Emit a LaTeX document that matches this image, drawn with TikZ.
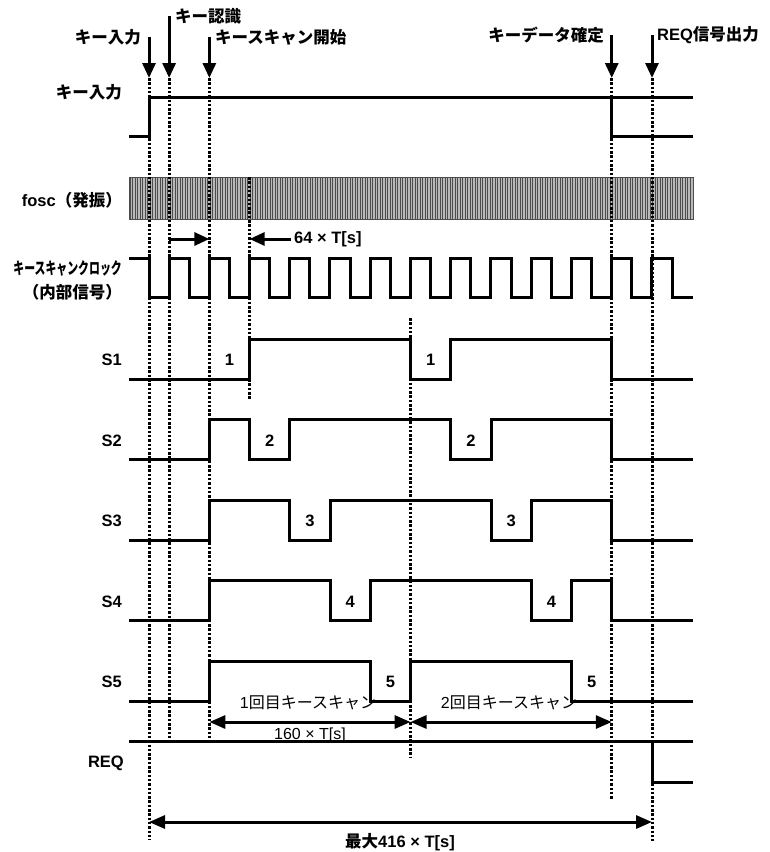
\documentclass[tikz,border=0pt]{standalone}
\usepackage{fontspec}
\usepackage{graphicx}
\setmainfont{Liberation Sans}
\newfontfamily\jp{Noto Sans CJK JP}
\usetikzlibrary{arrows.meta,calc}

\begin{document}
\begin{tikzpicture}[x=1pt,y=-1pt]
  \tikzset{sig/.style = {line width=3pt}}
  \tikzset{guide/.style = {line width=3pt, dash pattern=on 2.5pt off 1.8pt}}
  \tikzset{evarrow/.style = {line width=3pt, -{Triangle[width=13pt,length=15pt]}}}
  \tikzset{dimarrow/.style = {line width=3pt, {Triangle[width=13pt,length=16pt]}-{Triangle[width=13pt,length=16pt]}}}
  \tikzset{lbl/.style = {inner sep=0pt, font=\bfseries\fontsize{16.5}{18}\selectfont}}
  \tikzset{txt/.style = {inner sep=0pt, font=\fontsize{16}{18}\selectfont}}

  \useasboundingbox (0,0) rectangle (769,852);

  % event times (one clock half = 20.12)
  \foreach \n in {0,1,3,5,13,23,25}
    \coordinate (e\n) at ({149+20.12*\n},78);

  % fosc
  \fill[gray!55] (129,177) rectangle (693,219);
  \foreach \x in {130,132.5,...,692}
    \draw[black!70, line width=0.7pt] (\x,177) -- (\x,219);
  \draw[gray!60!black, line width=0.8pt] (129,177) rectangle (693,219);

  % guides
  \foreach \n/\a/\b in {0/78/840, 1/78/740, 3/78/740, 5/177/400, 13/318/758, 23/78/799, 25/78/841}
    \draw[guide] (e\n |- 0,\a) -- (e\n |- 0,\b);

  % key input
  \draw[sig] (129,136) -- (149,136) -- (149,97) -- (693,97);
  \draw[sig] (611.8,97) -- (611.8,136) -- (693,136);

  % scan clock
  \draw[sig] (129,258) foreach \n in {0,...,12} { -- ({149+40.24*\n},258) -- ({149+40.24*\n},297) -- ({169+40.24*\n},297) -- ({169+40.24*\n},258) } -- (672.1,258) -- (672.1,297) -- (693,297);

  % S1 .. S5
  \draw[sig] (129,379) -- (249.6,379) -- (249.6,339) -- (410.6,339) -- (410.6,379) -- (450.8,379) -- (450.8,339) -- (611.8,339) -- (611.8,379) -- (693,379);
  \foreach \k in {2,3,4}
  {
    \pgfmathsetmacro{\hy}{339+80.5*(\k-1)}
    \pgfmathsetmacro{\ly}{\hy+40}
    \pgfmathsetmacro{\a}{149+20.12*(2*\k+1)}
    \pgfmathsetmacro{\b}{149+20.12*(2*\k+3)}
    \pgfmathsetmacro{\c}{149+20.12*(2*\k+11)}
    \pgfmathsetmacro{\d}{149+20.12*(2*\k+13)}
    \draw[sig] (129,\ly) -- (209.4,\ly) -- (209.4,\hy) -- (\a,\hy) -- (\a,\ly) -- (\b,\ly) -- (\b,\hy) -- (\c,\hy) -- (\c,\ly) -- (\d,\ly) -- (\d,\hy) -- (611.8,\hy) -- (611.8,\ly) -- (693,\ly);
  }
  \draw[sig] (129,701) -- (209.4,701) -- (209.4,661) -- (370.3,661) -- (370.3,701) -- (410.6,701) -- (410.6,661) -- (571.5,661) -- (571.5,701) -- (693,701);
  \foreach \k in {1,...,5}
  {
    \pgfmathsetmacro{\hy}{339+80.5*(\k-1)+21}
    \node[lbl, anchor=east] (s\k) at (122,\hy) {S\k};
    \node[lbl] (p\k) at ({149+20.12*(2*\k+2)},\hy) {\k};
    \node[lbl] (q\k) at ({149+20.12*(2*\k+12)},\hy) {\k};
  }

  % REQ
  \draw[sig] (129,741) -- (693,741);
  \draw[sig] (652,741) -- (652,782) -- (693,782);

  % left labels
  \node[lbl, anchor=east] (lkey) at (122,92) {\jp キー入力};
  \node[lbl, anchor=east] (lfosc) at (122,200) {fosc{\jp （発振）}};
  \node[lbl, anchor=east] (lclk) at (122,268) {\scalebox{0.66}[1]{\jp キースキャンクロック}};
  \node[lbl, anchor=east] (lclk2) at (122,292) {\jp （内部信号）};
  \node[lbl, anchor=east] (lreq) at (124,763) {REQ};

  % markers
  \node[lbl, anchor=east] (tkey) at (141,37) {\jp キー入力};
  \draw[evarrow] (tkey.east -| e0) -- (e0);
  \node[lbl, anchor=west] (trec) at (175,16) {\jp キー認識};
  \draw[evarrow] (trec.west -| e1) -- (e1);
  \node[lbl, anchor=west] (tscan) at (215,37) {\jp キースキャン開始};
  \draw[evarrow] (tscan.west -| e3) -- (e3);
  \node[lbl, anchor=east] (tfix) at (604,35) {\jp キーデータ確定};
  \draw[evarrow] (tfix.east -| e23) -- (e23);
  \node[lbl, anchor=west] (treq) at (657,35) {REQ{\jp 信号出力}};
  \draw[evarrow] (treq.west -| e25) -- (e25);

  % lengths
  \draw[evarrow] (e1 |- 0,239) -- (e3 |- 0,239);
  \node[lbl, anchor=west] (len64) at (294,239) {64 × T[s]};
  \draw[evarrow] ([xshift=-3pt]len64.west) -- (len64.west -| e5);
  \node[txt] (scan1) at (308,703) {1{\jp 回目キースキャン}};
  \node[txt] (scan2) at (509,703) {2{\jp 回目キースキャン}};
  \draw[dimarrow] (e3 |- 0,722) -- (e13 |- 0,722);
  \draw[dimarrow] (e13 |- 0,722) -- (e23 |- 0,722);
  \node[txt] (len160) at (310,735) {160 × T[s]};
  \draw[dimarrow] (e0 |- 0,822) -- (e25 |- 0,822);
  \node[lbl] (lenmax) at (400,842) {{\jp 最大}416 × T[s]};
\end{tikzpicture}
\end{document}
